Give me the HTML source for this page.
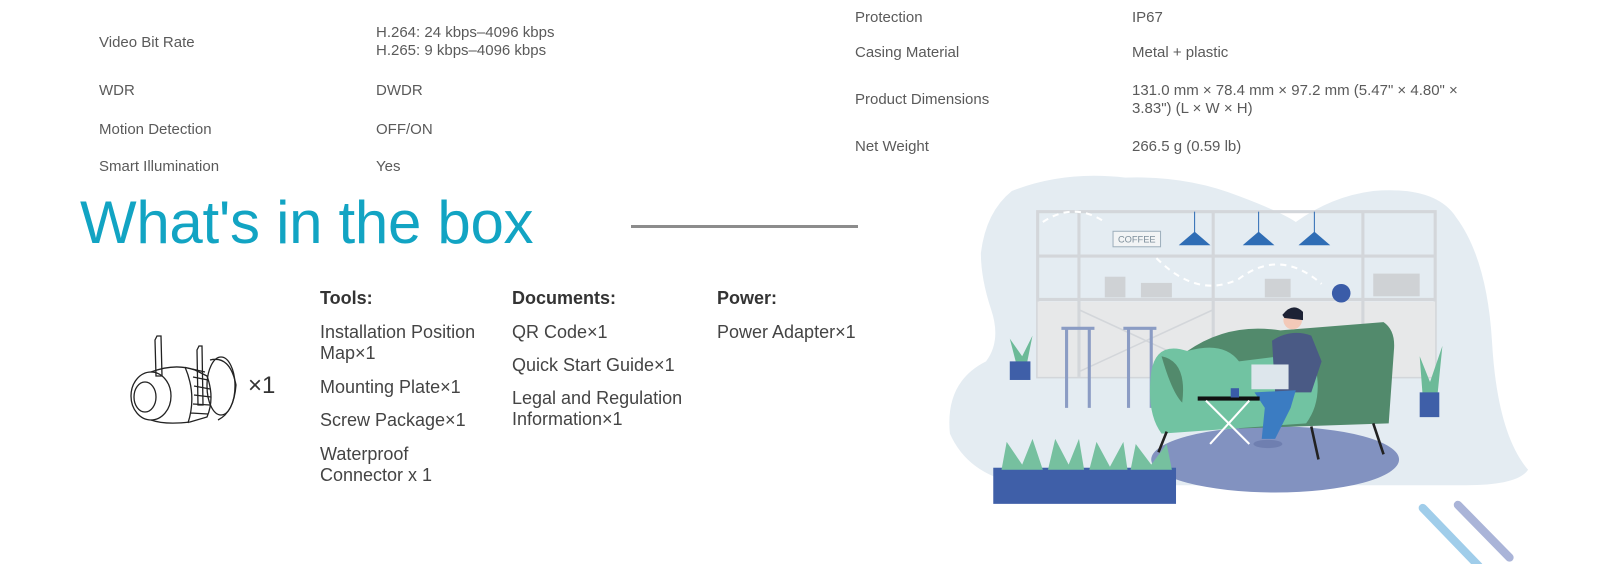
<!DOCTYPE html>
<html><head><meta charset="utf-8"><style>
html,body{margin:0;padding:0;background:#fff;}
body{width:1619px;height:564px;position:relative;overflow:hidden;font-family:"Liberation Sans",sans-serif;}
.t{position:absolute;font-size:15px;color:#5a5a5a;white-space:nowrap;line-height:18px;}
.b{position:absolute;font-size:18px;color:#444;line-height:21px;white-space:nowrap;}
.h{font-weight:bold;color:#333;}
</style></head><body>
<div class="t" style="left:99px;top:34px">Video Bit Rate</div>
<div class="t" style="left:376px;top:24px">H.264: 24 kbps–4096 kbps<br>H.265: 9 kbps–4096 kbps</div>
<div class="t" style="left:99px;top:82px">WDR</div>
<div class="t" style="left:376px;top:82px">DWDR</div>
<div class="t" style="left:99px;top:121px">Motion Detection</div>
<div class="t" style="left:376px;top:121px">OFF/ON</div>
<div class="t" style="left:99px;top:158px">Smart Illumination</div>
<div class="t" style="left:376px;top:158px">Yes</div>

<div class="t" style="left:855px;top:9px">Protection</div>
<div class="t" style="left:1132px;top:9px">IP67</div>
<div class="t" style="left:855px;top:44px">Casing Material</div>
<div class="t" style="left:1132px;top:44px">Metal + plastic</div>
<div class="t" style="left:855px;top:91px">Product Dimensions</div>
<div class="t" style="left:1132px;top:82px">131.0 mm × 78.4 mm × 97.2 mm (5.47" × 4.80" ×<br>3.83") (L × W × H)</div>
<div class="t" style="left:855px;top:138px">Net Weight</div>
<div class="t" style="left:1132px;top:138px">266.5 g (0.59 lb)</div>

<div style="position:absolute;left:80px;top:189px;font-size:60px;line-height:68px;color:#12a4c3;white-space:nowrap;letter-spacing:-0.3px">What's in the box</div>
<div style="position:absolute;left:631px;top:225px;width:227px;height:3px;background:#8c8c8c"></div>

<div class="b h" style="left:320px;top:288px">Tools:</div>
<div class="b h" style="left:512px;top:288px">Documents:</div>
<div class="b h" style="left:717px;top:288px">Power:</div>
<div class="b" style="left:320px;top:322px">Installation Position<br>Map×1</div>
<div class="b" style="left:320px;top:377px">Mounting Plate×1</div>
<div class="b" style="left:320px;top:410px">Screw Package×1</div>
<div class="b" style="left:320px;top:444px">Waterproof<br>Connector x 1</div>
<div class="b" style="left:512px;top:322px">QR Code×1</div>
<div class="b" style="left:512px;top:355px">Quick Start Guide×1</div>
<div class="b" style="left:512px;top:388px">Legal and Regulation<br>Information×1</div>
<div class="b" style="left:717px;top:322px">Power Adapter×1</div>

<svg style="position:absolute;left:0;top:0" width="1619" height="564">
<g fill="none" stroke="#222" stroke-width="1.3">
<path d="M155 340 L157 336 L161 336 L162 376 L156 376 Z"/>
<path d="M197 350 L199 346 L202 346 L203 405 L198 405 Z"/>
<ellipse cx="151" cy="396" rx="20" ry="24"/>
<ellipse cx="145" cy="397" rx="11" ry="15"/>
<path d="M151 372 Q175 363 195 370 L207 376 Q215 398 207 417 L190 422 Q165 425 151 420"/>
<path d="M185 367 Q197 395 188 423 M192 369 L205 372 M193 377 L208 380 M194 386 L210 389 M194 395 L211 397 M193 404 L210 405 M191 413 L208 414"/>
<ellipse cx="221" cy="386" rx="14" ry="29"/>
<path d="M210 360 Q230 355 236 385 Q234 412 218 420"/>
</g>
<text x="248" y="393" font-family="Liberation Sans,sans-serif" font-size="24" fill="#333">×1</text>

<g transform="scale(1.0325)">
<path d="M980 185 Q1030 165 1090 172 Q1150 170 1200 190 Q1240 205 1255 215 Q1290 190 1330 185 Q1390 180 1410 210 Q1440 250 1445 330 Q1450 420 1480 455 Q1470 470 1420 470 L1000 470 Q940 465 920 420 Q915 370 955 350 Q970 330 960 300 Q950 270 950 245 Q955 205 980 185 Z" fill="#e4ecf2"/>
<rect x="1005" y="205" width="385" height="160" fill="none" stroke="#d3d6da" stroke-width="3"/>
<rect x="1005" y="292" width="385" height="73" fill="#e7e8e9"/>
<g stroke="#d3d6da" stroke-width="3">
<line x1="1005" y1="248" x2="1390" y2="248"/><line x1="1005" y1="290" x2="1390" y2="290"/>
<line x1="1045" y1="205" x2="1045" y2="365"/><line x1="1175" y1="205" x2="1175" y2="365"/><line x1="1320" y1="205" x2="1320" y2="365"/>
<line x1="1045" y1="300" x2="1175" y2="360" stroke-width="1.5"/><line x1="1175" y1="300" x2="1045" y2="360" stroke-width="1.5"/>
</g>
<g fill="#cfd2d5"><rect x="1070" y="268" width="20" height="20"/><rect x="1105" y="274" width="30" height="14"/><rect x="1225" y="270" width="25" height="18"/><rect x="1330" y="265" width="45" height="22"/></g>
<rect x="1078" y="224" width="46" height="15" fill="#f2f4f5" stroke="#9fb0bd"/>
<text x="1101" y="235" text-anchor="middle" font-family="Liberation Sans,sans-serif" font-size="9" fill="#7d8e9a">COFFEE</text>
<g fill="#2f6db5" stroke="#2f6db5"><line x1="1157" y1="205" x2="1157" y2="226"/><path d="M1143 237 L1157 225 L1171 237 Z"/><line x1="1219" y1="205" x2="1219" y2="226"/><path d="M1205 237 L1219 225 L1233 237 Z"/><line x1="1273" y1="205" x2="1273" y2="226"/><path d="M1259 237 L1273 225 L1287 237 Z"/></g>
<path d="M1010 215 Q1040 195 1070 215 M1120 250 Q1160 290 1200 270 Q1240 240 1280 275" fill="none" stroke="#fff" stroke-width="2" stroke-dasharray="6 5"/>
<circle cx="1299" cy="284" r="9" fill="#3a5ca8"/>
<g stroke="#8b9cc4" stroke-width="3"><line x1="1028" y1="318" x2="1060" y2="318"/><line x1="1033" y1="318" x2="1033" y2="395"/><line x1="1055" y1="318" x2="1055" y2="395"/><line x1="1088" y1="318" x2="1120" y2="318"/><line x1="1093" y1="318" x2="1093" y2="395"/><line x1="1115" y1="318" x2="1115" y2="395"/></g>
<ellipse cx="1235" cy="445" rx="120" ry="32" fill="#8292c0"/>
<path d="M1150 340 Q1190 312 1240 320 L1340 312 Q1352 320 1350 340 L1345 410 L1200 415 Z" fill="#528a6c"/>
<path d="M1115 360 Q1120 330 1150 340 Q1185 330 1200 350 L1240 345 Q1265 340 1275 360 Q1280 390 1265 410 L1125 420 Q1110 400 1115 360 Z" fill="#71c3a2"/>
<path d="M1125 345 Q1150 350 1145 390 Q1135 380 1125 345 Z" fill="#528a6c"/>
<g stroke="#222" stroke-width="2.5"><line x1="1130" y1="418" x2="1122" y2="438"/><line x1="1330" y1="410" x2="1340" y2="440"/><line x1="1270" y1="413" x2="1277" y2="445"/></g>
<path d="M1232 330 Q1250 318 1270 325 L1280 350 L1270 380 L1235 380 Z" fill="#4a5a85"/>
<circle cx="1252" cy="310" r="9" fill="#f3c9b8"/><path d="M1242 305 Q1252 292 1262 302 L1262 310 L1244 308 Z" fill="#1d2235"/>
<path d="M1215 380 L1255 378 L1250 395 L1235 425 L1222 425 L1225 395 Z" fill="#3b7cc2"/>
<rect x="1212" y="353" width="36" height="24" fill="#dde6ec"/>
<ellipse cx="1228" cy="430" rx="14" ry="4" fill="#6f7fb0"/>
<rect x="1160" y="384" width="60" height="4" fill="#111"/>
<rect x="1192" y="376" width="8" height="9" fill="#3a5ca8"/>
<g stroke="#fff" stroke-width="2"><line x1="1168" y1="388" x2="1210" y2="430"/><line x1="1210" y1="388" x2="1172" y2="430"/></g>
<path d="M985 355 L978 328 L990 345 L1000 325 L994 355 Z" fill="#6cba98"/><rect x="978" y="350" width="20" height="18" fill="#3f5fa8"/>
<path d="M1378 385 L1375 345 L1385 370 L1397 335 L1392 385 Z" fill="#6cba98"/><rect x="1375" y="380" width="19" height="24" fill="#3f5fa8"/>
<rect x="962" y="453" width="177" height="35" fill="#3f5fa8"/>
<path d="M970 455 L975 428 L990 450 L1000 425 L1010 455 Z M1015 455 L1022 425 L1035 450 L1045 425 L1050 455 Z M1055 455 L1062 428 L1075 452 L1088 428 L1092 455 Z M1095 455 L1100 430 L1115 450 L1130 430 L1135 455 Z" fill="#76c09f"/>
<g stroke-linecap="round" stroke-width="8"><line x1="1378" y1="492" x2="1432" y2="548" stroke="#a0cdea"/><line x1="1412" y1="489" x2="1462" y2="540" stroke="#aab4d8"/></g>
</g>
</svg>
</body></html>
